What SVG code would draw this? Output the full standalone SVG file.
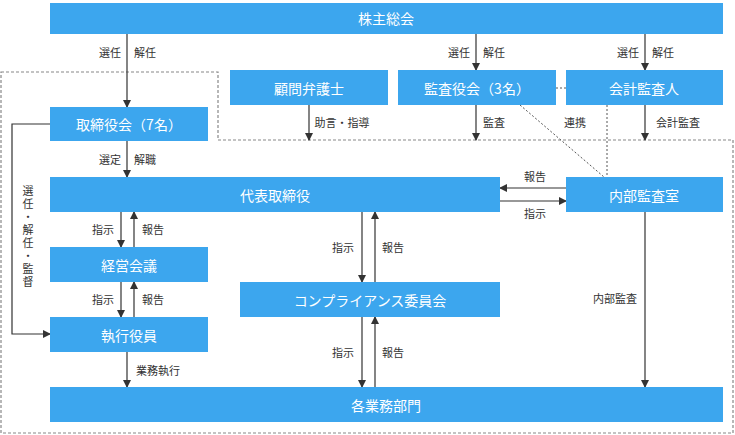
<svg xmlns="http://www.w3.org/2000/svg" width="735" height="435" viewBox="0 0 735 435">
<style>
.b{fill:#3ca6ee}
.t{font-family:"Noto Sans CJK JP","Noto Sans",sans-serif;font-size:14px;fill:#fff;text-anchor:middle;dominant-baseline:central}
.l{font-family:"Noto Sans CJK JP","Noto Sans",sans-serif;font-size:11px;fill:#333;text-anchor:middle;dominant-baseline:central}
.v{font-family:"Noto Sans CJK JP","Noto Sans",sans-serif;font-size:11px;fill:#333;writing-mode:vertical-rl;text-anchor:middle;letter-spacing:2px}
.c{stroke:#333;stroke-width:1.2;fill:none}
.a{stroke:#333;stroke-width:1.2;fill:none;marker-end:url(#ah)}
.d{stroke:#888;stroke-width:1.2;fill:none;stroke-dasharray:3,2}
.o{stroke:#555;stroke-width:1;fill:none;stroke-dasharray:2,2}
</style>
<defs><marker id="ah" markerWidth="8" markerHeight="8" refX="7" refY="4" orient="auto" markerUnits="userSpaceOnUse"><path d="M0,0 L8,4 L0,8 z" fill="#333"/></marker></defs>
<rect width="735" height="435" fill="#fff"/>
<path class="d" d="M1,72 H218 V140 H733 V433 H1 Z"/>
<g id="connectors">
<path class="a" d="M127,34 V107"/><text class="l" x="110" y="52">選任</text><text class="l" x="145" y="52">解任</text>
<path class="a" d="M476,34 V70"/><text class="l" x="459" y="52">選任</text><text class="l" x="494" y="52">解任</text>
<path class="a" d="M645,34 V70"/><text class="l" x="628" y="52">選任</text><text class="l" x="663" y="52">解任</text>
<path class="a" d="M309,105 V140"/><text class="l" x="342" y="122">助言・指導</text>
<path class="a" d="M476,105 V140"/><text class="l" x="494" y="122">監査</text>
<path class="a" d="M645,105 V140"/><text class="l" x="678" y="122">会計監査</text>
<path class="o" d="M556,88 H566 M520,105 L604,177 M607,105 V177"/><text class="l" x="575" y="122">連携</text>
<path class="a" d="M127,141 V177"/><text class="l" x="110" y="159">選定</text><text class="l" x="145" y="159">解職</text>
<path class="a" d="M50,124 H12 V334 H50"/>
<text class="v" x="28" y="237">選任・解任・監督</text>
<path class="a" d="M121,212 V247"/><path class="a" d="M134,247 V212"/><text class="l" x="103" y="229">指示</text><text class="l" x="153" y="229">報告</text>
<path class="a" d="M121,282 V317"/><path class="a" d="M134,317 V282"/><text class="l" x="103" y="299">指示</text><text class="l" x="153" y="299">報告</text>
<path class="a" d="M127,352 V387"/><text class="l" x="158" y="370">業務執行</text>
<path class="a" d="M362,212 V282"/><path class="a" d="M375,282 V212"/><text class="l" x="343" y="247">指示</text><text class="l" x="393" y="247">報告</text>
<path class="a" d="M362,317 V387"/><path class="a" d="M375,387 V317"/><text class="l" x="343" y="352">指示</text><text class="l" x="393" y="352">報告</text>
<path class="a" d="M566,188 H500"/><text class="l" x="535" y="176">報告</text>
<path class="a" d="M500,201 H566"/><text class="l" x="535" y="213">指示</text>
<path class="a" d="M645,212 V387"/><text class="l" x="615" y="298">内部監査</text>
</g>
<g id="kabunushi"><rect class="b" x="50" y="3" width="673" height="31"/><text class="t" x="386" y="18">株主総会</text></g>
<g id="komon"><rect class="b" x="230" y="70" width="158" height="35"/><text class="t" x="309" y="88">顧問弁護士</text></g>
<g id="kansayaku"><rect class="b" x="398" y="70" width="158" height="35"/><text class="t" x="477" y="88">監査役会（3名）</text></g>
<g id="kaikei"><rect class="b" x="566" y="70" width="157" height="35"/><text class="t" x="644" y="88">会計監査人</text></g>
<g id="torishimariyakukai"><rect class="b" x="50" y="107" width="158" height="34"/><text class="t" x="129" y="124">取締役会（7名）</text></g>
<g id="daihyo"><rect class="b" x="50" y="177" width="450" height="35"/><text class="t" x="275" y="195">代表取締役</text></g>
<g id="naibu"><rect class="b" x="566" y="177" width="157" height="35"/><text class="t" x="644" y="195">内部監査室</text></g>
<g id="keiei"><rect class="b" x="50" y="247" width="158" height="35"/><text class="t" x="129" y="265">経営会議</text></g>
<g id="compliance"><rect class="b" x="240" y="282" width="260" height="35"/><text class="t" x="370" y="300">コンプライアンス委員会</text></g>
<g id="shikko"><rect class="b" x="50" y="317" width="158" height="35"/><text class="t" x="129" y="335">執行役員</text></g>
<g id="gyomu"><rect class="b" x="50" y="387" width="673" height="35"/><text class="t" x="386" y="405">各業務部門</text></g>
</svg>
